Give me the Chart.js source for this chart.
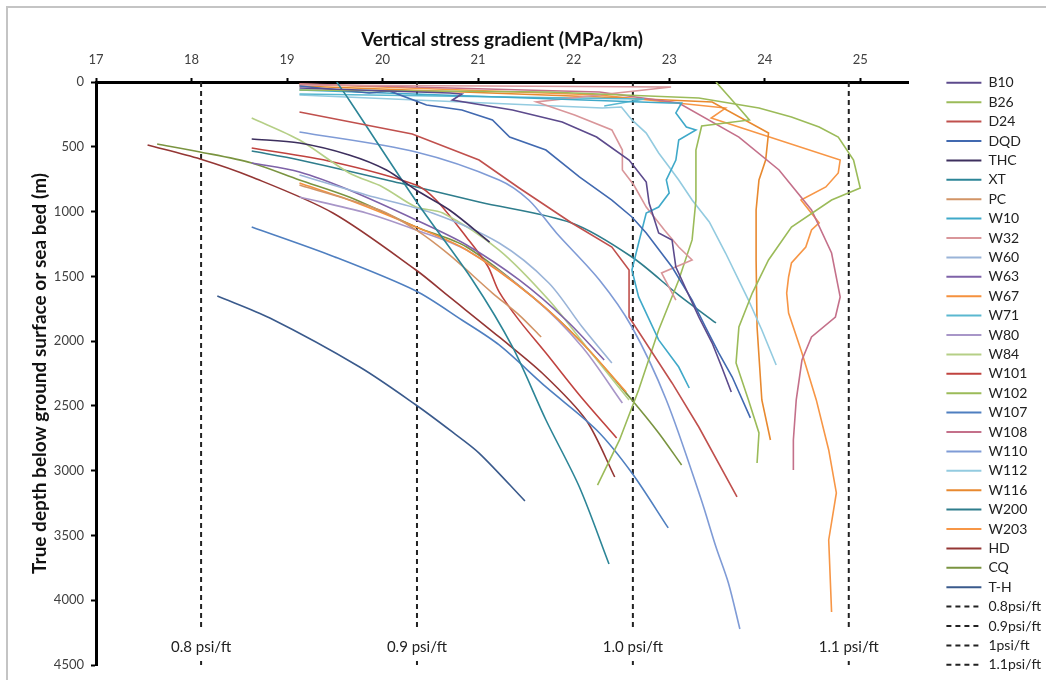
<!DOCTYPE html>
<html>
<head>
<meta charset="utf-8">
<script src="https://cdn.jsdelivr.net/npm/chart.js@4.4.1/dist/chart.umd.min.js"></script>
<style>
	html, body { margin: 0; padding: 0; background: #fff; }
	#wrap { width: 1046px; height: 680px; }
</style>
</head>
<body>
<div id="wrap"><canvas id="stress" width="1046" height="680"></canvas></div>
<script>
// each well: [vertical stress gradient (MPa/km), depth (m)]
const b10 = [[19.13,46],[20.70,85],[20.83,93],[20.73,139],[21.36,216],[21.88,309],[22.24,425],[22.58,602],[22.76,772],[22.79,934],[22.89,1165],[23.03,1219],[23.07,1428],[23.31,1814],[23.45,2015],[23.55,2200],[23.65,2393]];
const b26 = [[19.13,62],[21.74,77],[23.31,123],[23.94,201],[24.28,270],[24.57,347],[24.77,425],[24.93,602],[25.00,818],[24.70,911],[24.28,1119],[24.04,1374],[23.87,1629],[23.73,1891],[23.70,2169],[23.83,2454],[23.94,2709],[23.92,2941]];
const d24 = [[19.13,232],[20.31,401],[21.01,602],[21.43,818],[21.98,1088],[22.40,1274],[22.58,1451],[22.58,1814],[23.03,2323],[23.31,2663],[23.71,3203]];
const dqd = [[19.13,31],[19.86,85],[20.07,69],[20.46,178],[20.83,216],[21.15,293],[21.33,425],[21.71,525],[22.06,733],[22.40,911],[22.61,1042],[22.76,1165],[23.03,1428],[23.24,1683],[23.38,1891],[23.52,2092],[23.66,2277],[23.85,2593]];
const thc = [[18.63,440],[19.13,471],[19.65,563],[20.04,679],[20.35,834],[20.70,988],[21.12,1235]];
const xt = [[19.52,0],[19.65,139],[20.35,918],[20.94,1528],[21.36,2045],[21.71,2609],[22.06,3126],[22.37,3720]];
const pc = [[19.13,795],[19.97,988],[20.35,1142],[20.70,1335],[21.15,1629],[21.43,1799],[21.66,1968]];
const w10 = [[19.13,62],[23.00,162],[23.13,162],[23.07,239],[23.18,347],[23.28,370],[23.10,448],[23.07,602],[22.97,756],[23.00,857],[22.89,965],[22.76,1011],[22.68,1243],[22.61,1451],[22.68,1659],[22.89,1991],[23.10,2200],[23.21,2362]];
const w32 = [[19.13,23],[23.02,39],[21.61,154],[22.01,255],[22.40,370],[22.51,525],[22.51,679],[22.63,795],[22.76,965],[22.95,1142],[23.10,1274],[23.24,1374],[22.92,1474],[23.07,1683]];
const w60 = [[19.13,718],[19.83,872],[20.52,1011],[21.22,1243],[21.74,1551],[22.09,1891],[22.40,2169]];
const w63 = [[18.63,625],[19.13,695],[19.65,834],[20.35,1065],[20.88,1258],[21.43,1528],[21.92,1837],[22.32,2146]];
const w67 = [[19.13,780],[19.65,911],[20.35,1119],[20.88,1297],[21.57,1659],[22.09,2015],[22.55,2393]];
const w71 = [[19.13,93],[22.74,131],[22.32,185]];
const w80 = [[19.13,888],[19.83,1011],[20.35,1142],[20.88,1297],[21.57,1659],[22.09,2045],[22.51,2478]];
const w84 = [[18.63,278],[19.13,448],[19.65,702],[20.00,810],[20.35,965],[20.63,1011],[21.22,1297],[21.74,1683],[22.16,2069],[22.58,2454]];
const w101 = [[18.63,509],[19.48,617],[20.35,795],[20.56,911],[20.88,1200],[21.10,1420],[21.22,1620],[21.43,1840],[21.71,2092],[22.06,2416],[22.45,2748]];
const w102 = [[23.49,0],[23.75,216],[23.84,293],[23.34,340],[23.28,525],[23.28,911],[23.24,1219],[23.10,1528],[22.89,1914],[22.68,2377],[22.48,2763],[22.25,3111]];
const w107 = [[18.63,1119],[19.50,1350],[20.35,1613],[20.83,1837],[21.22,2030],[21.71,2354],[22.24,2686],[22.61,3018],[22.99,3442]];
const w108 = [[19.13,15],[22.27,77],[23.10,162],[23.73,425],[24.15,679],[24.49,988],[24.70,1320],[24.79,1659],[24.74,1814],[24.49,1968],[24.39,2146],[24.33,2454],[24.30,2763],[24.30,2995]];
const w110 = [[19.13,386],[20.35,540],[21.22,756],[21.53,911],[21.82,1165],[22.27,1528],[22.61,1891],[22.97,2454],[23.33,3211],[23.49,3589],[23.62,3867],[23.74,4222]];
const w112 = [[19.13,100],[22.30,201],[22.50,193],[22.61,293],[22.76,394],[22.89,548],[23.00,656],[23.10,756],[23.24,911],[23.42,1080],[23.59,1320],[23.83,1683],[23.97,1914],[24.12,2184]];
const w116 = [[19.13,31],[22.27,116],[23.45,154],[24.04,394],[24.01,602],[23.94,756],[23.91,988],[23.91,1374],[23.92,1891],[23.97,2454],[24.06,2763]];
const w200 = [[18.63,533],[19.13,602],[20.18,780],[21.01,926],[21.98,1088],[22.61,1351],[23.10,1645],[23.49,1860]];
const w203 = [[19.13,15],[22.27,100],[23.59,201],[23.44,278],[24.79,602],[24.77,702],[24.64,810],[24.38,911],[24.57,1088],[24.49,1142],[24.43,1274],[24.28,1397],[24.25,1505],[24.23,1629],[24.25,1783],[24.32,1937],[24.39,2092],[24.54,2454],[24.67,2840],[24.75,3172],[24.67,3535],[24.70,4091]];
const hd = [[17.54,486],[18.09,594],[18.63,733],[19.48,1011],[20.35,1451],[20.70,1659],[21.22,1968],[21.67,2246],[22.13,2609],[22.43,3049]];
const cq = [[17.64,479],[18.09,540],[18.63,625],[19.13,756],[19.65,888],[20.35,1119],[20.88,1274],[21.57,1659],[22.09,2015],[22.61,2454],[22.89,2709],[23.13,2956]];
const th = [[18.27,1652],[18.82,1822],[19.76,2200],[20.35,2493],[20.73,2701],[21.01,2864],[21.49,3234]];

const wellNames = ["B10","B26","D24","DQD","THC","XT","PC","W10","W32","W60","W63","W67","W71","W80","W84","W101","W102","W107","W108","W110","W112","W116","W200","W203","HD","CQ","T-H"];
const wellValues = [b10,b26,d24,dqd,thc,xt,pc,w10,w32,w60,w63,w67,w71,w80,w84,w101,w102,w107,w108,w110,w112,w116,w200,w203,hd,cq,th];
const wellColors = ["#5c4a8c","#9bbb59","#c0504d","#4169b0","#3d2f5e","#2c8597","#d29466","#3fa9c9","#d9969a","#9ab4d8","#7e62a8","#f5913e","#5ab8d0","#a896c8","#b5cf86","#c0433f","#9bbb59","#4f7fc0","#c4708a","#7f9bd6","#93cbe0","#e8892f","#2e7d8c","#f79646","#943634","#7a9440","#3a5a8c"];
const smoothWells = ["THC","XT","PC","W60","W63","W67","W80","W84","W101","W107","W110","W200","HD","CQ","T-H"];

// reference pressure gradients
const psiNames = ["0.8psi/ft","0.9psi/ft","1psi/ft","1.1psi/ft"];
const psiLabels = ["0.8 psi/ft","0.9 psi/ft","1.0 psi/ft","1.1 psi/ft"];
const psiGradient = [18.10, 20.36, 22.62, 24.88];

const xTicks = [17, 25.5];
const yTicks = [0, 4500];

const datasets = wellNames.map((n, i) => ({
	label: n,
	data: wellValues[i].map(p => ({ x: p[0], y: p[1] })),
	borderColor: wellColors[i],
	backgroundColor: wellColors[i],
	borderWidth: 1.6,
	pointRadius: 0,
	pointHoverRadius: 0,
	pointStyle: "line",
	tension: smoothWells.includes(n) ? 0.3 : 0,
	fill: false
}));

psiGradient.forEach((g, i) => {
	datasets.push({
		label: psiNames[i],
		data: [{ x: g, y: 0 }, { x: g, y: 4220 }, { x: g, y: null }, { x: g, y: 4470 }, { x: g, y: 4500 }],
		borderColor: "#222",
		backgroundColor: "#222",
		borderWidth: 2,
		borderDash: [5, 4],
		pointRadius: 0,
		pointHoverRadius: 0,
		pointStyle: "line",
		fill: false
	});
});

const framePlugin = {
	id: "frame",
	beforeDraw(chart) {
		const ctx = chart.ctx;
		ctx.save();
		ctx.fillStyle = "#fff";
		ctx.fillRect(0, 0, chart.width, chart.height);
		ctx.strokeStyle = "#c4c4c4";
		ctx.lineWidth = 2;
		ctx.beginPath();
		ctx.moveTo(7, chart.height);
		ctx.lineTo(7, 7);
		ctx.lineTo(chart.width, 7);
		ctx.stroke();
		ctx.restore();
	},
	afterDatasetsDraw(chart) {
		const { ctx, scales } = chart;
		ctx.save();
		ctx.font = "15px Lato";
		ctx.fillStyle = "#222";
		ctx.textAlign = "center";
		ctx.textBaseline = "middle";
		psiGradient.forEach((g, i) => {
			ctx.fillText(psiLabels[i], scales.x.getPixelForValue(g), scales.y.getPixelForValue(4360));
		});
		ctx.restore();
	}
};

// legend sits in its own strip on the right
const legendPlugin = {
	id: "legendStrip",
	afterInit(chart) {
		const lg = chart.legend;
		if (!lg) return;
		const fit = lg.fit.bind(lg);
		lg.fit = function () {
			const mh = this.maxHeight;
			this.maxHeight = 2000;
			fit();
			this.maxHeight = mh;
			this.width = 138;
			this.height = mh;
		};
	},
	afterLayout(chart) {
		const lg = chart.legend;
		if (!lg) return;
		lg.left += 33;
		lg.right += 33;
		lg.bottom = 680;
	}
};

const tickFont = { family: "Lato", size: 13 };
const titleFont = { family: "Lato", size: 19, weight: "bold" };

new Chart(document.getElementById("stress"), {
	type: "line",
	data: { datasets: datasets },
	options: {
		responsive: false,
		animation: false,
		events: [],
		layout: { padding: { left: 0, top: 0, right: 0, bottom: 15 } },
		plugins: {
			tooltip: { enabled: false },
			legend: {
				position: "right",
				align: "start",
				title: { display: true, text: " ", font: { size: 12 }, padding: { top: 56, bottom: 0 } },
				labels: {
					usePointStyle: true,
					pointStyleWidth: 35,
					padding: 5.4,
					color: "#222",
					font: { family: "Lato", size: 14 },
					generateLabels(chart) {
						const items = Chart.defaults.plugins.legend.labels.generateLabels(chart);
						items.forEach(it => {
							const ds = chart.data.datasets[it.datasetIndex];
							it.lineDash = ds.borderDash || [];
							it.lineWidth = 2;
							it.strokeStyle = ds.borderColor;
							it.pointStyle = "line";
						});
						return items;
					}
				}
			}
		},
		scales: {
			x: {
				type: "linear",
				position: "top",
				min: xTicks[0],
				max: xTicks[1],
				afterFit(s) { s.height = 82; },
				ticks: { stepSize: 1, includeBounds: false, padding: 10, color: "#404040", font: tickFont, callback: v => String(v) },
				grid: { drawOnChartArea: false, tickLength: 4, tickWidth: 2, tickColor: "#000" },
				border: { color: "#000", width: 3 },
				title: { display: true, text: "Vertical stress gradient (MPa/km)", color: "#111", font: titleFont, padding: { top: 28, bottom: 0 } }
			},
			y: {
				type: "linear",
				reverse: true,
				min: yTicks[0],
				max: yTicks[1],
				afterFit(s) { s.width = 96; },
				ticks: { stepSize: 500, padding: 7, color: "#404040", font: tickFont, callback: v => String(v) },
				grid: { drawOnChartArea: false, tickLength: 5, tickWidth: 2, tickColor: "#000" },
				border: { color: "#000", width: 3 },
				title: { display: true, text: "True depth below ground surface or sea bed (m)", color: "#111", font: titleFont, padding: { top: 28, bottom: 0 } }
			}
		}
	},
	plugins: [framePlugin, legendPlugin]
});
</script>
</body>
</html>
